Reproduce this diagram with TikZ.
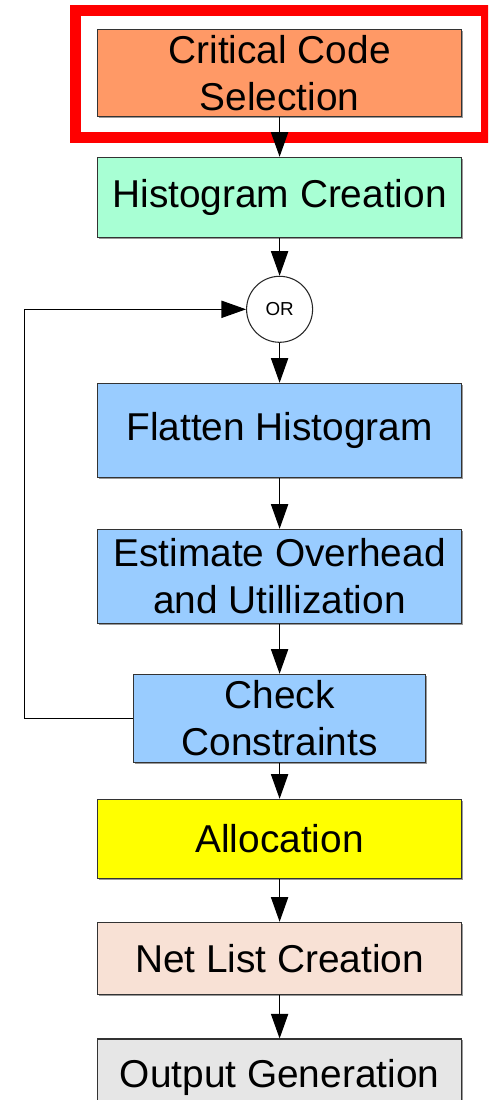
\documentclass[tikz,border=0pt]{standalone}
\usepackage{fontspec}
\setmainfont{Liberation Sans}
\usetikzlibrary{arrows.meta,shadows}
\definecolor{cOrange}{HTML}{FF9966}
\definecolor{cGreen}{HTML}{A8FFD4}
\definecolor{cBlue}{HTML}{99CCFF}
\definecolor{cYellow}{HTML}{FFFF00}
\definecolor{cPeach}{HTML}{F8E1D5}
\definecolor{cGray}{HTML}{E6E6E6}
\definecolor{cRed}{HTML}{FF0000}
\tikzset{
  box/.style={draw=black!80, line width=0.6pt, rectangle, align=center, inner sep=0pt,
    minimum width=364.4*0.02cm,
    font=\fontsize{22.1}{26.5}\selectfont,
    drop shadow={shadow xshift=0.7pt, shadow yshift=-0.7pt, fill=black!40, opacity=1}},
  orcircle/.style={draw=black!85, line width=0.6pt, circle, fill=white, inner sep=0pt,
    minimum size=66*0.02cm, font=\fontsize{10.7}{12}\selectfont},
  arr/.style={draw=black, line width=0.6pt, -{Triangle[length=14pt,width=9.8pt]}},
}
\begin{document}
\begin{tikzpicture}[x=0.02cm,y=-0.02cm]
\clip (0,0) rectangle (488,1100);
\fill[white] (0,0) rectangle (488,1100);

\node[box, fill=cOrange, minimum height=87.4*0.02cm] (crit) at (279.6,73) {Critical Code\\Selection};
\node[box, fill=cGreen, minimum height=80*0.02cm] (hist) at (279.6,197.3) {Histogram Creation};
\node[orcircle] (or) at (279.6,309.3) {OR};
\node[box, fill=cBlue, minimum height=94.4*0.02cm] (flat) at (279.6,430.5) {Flatten Histogram};
\node[box, fill=cBlue, minimum height=94*0.02cm] (est) at (279.6,576.3) {Estimate Overhead\\and Utillization};
\node[box, fill=cBlue, minimum width=291.7*0.02cm, minimum height=88*0.02cm] (chk) at (279.6,718.3) {Check\\Constraints};
\node[box, fill=cYellow, minimum height=79*0.02cm] (alloc) at (279.6,838.8) {Allocation};
\node[box, fill=cPeach, minimum height=72*0.02cm] (net) at (279.6,958.3) {Net List Creation};
\node[box, fill=cGray, minimum height=76*0.02cm] (out) at (279.6,1077) {Output Generation};

\draw[draw=cRed, line width=11*0.02cm] (75.5,10.5) rectangle (486.8,137.5);

\coordinate (lp) at (24.3,0);
\draw[arr] (crit) -- (hist);
\draw[arr] (hist) -- (or);
\draw[arr] (or) -- (flat);
\draw[arr] (flat) -- (est);
\draw[arr] (est) -- (chk);
\draw[arr] (chk) -- (alloc);
\draw[arr] (alloc) -- (net);
\draw[arr] (net) -- (out);
\draw[arr] (chk.west) -- (chk.west -| lp) |- (or.west);
\end{tikzpicture}
\end{document}
